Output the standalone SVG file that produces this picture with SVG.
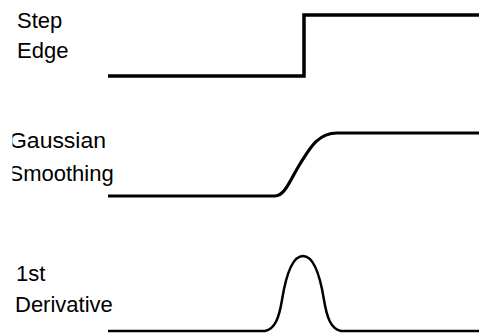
<svg xmlns="http://www.w3.org/2000/svg" width="479" height="333" viewBox="0 0 479 333">
  <style>
    .lbl { font-family: "Liberation Sans", Arial, sans-serif; font-size: 22px; fill: #000; }
    .sig { fill: none; stroke: #000; stroke-linejoin: miter; stroke-linecap: butt; }
  </style>
  <defs>
    <clipPath id="leftClip">
      <rect x="12.5" y="0" width="467" height="333"/>
    </clipPath>
  </defs>
  <rect width="479" height="333" fill="#fff"/>
  <g id="step-edge">
    <text class="lbl" x="17" y="27.5">Step</text>
    <text class="lbl" x="17" y="58">Edge</text>
    <path class="sig" stroke-width="3.5" d="M108,76 H304 V15 H479"/>
  </g>
  <g id="gaussian-smoothing" >
    <g clip-path="url(#leftClip)">
      <text class="lbl" x="9" y="148" textLength="97" lengthAdjust="spacingAndGlyphs">Gaussian</text>
      <text class="lbl" x="8.5" y="181">Smoothing</text>
    </g>
    <path class="sig" stroke-width="3.2" stroke-linejoin="round" d="M108,196 H275 C285,196 290,180 300,164 C310,148 318,133 337,133 H479"/>
  </g>
  <g id="first-derivative">
    <text class="lbl" x="16" y="280.5">1st</text>
    <text class="lbl" x="15" y="312">Derivative</text>
    <path class="sig" stroke-width="2.5" stroke-linejoin="round" d="M108,331 H265 C275,329 279,318 282,300 C286,275 292,256 303,256 C314,256 320,275 324,300 C327,318 331,329 341,331 H479"/>
  </g>
</svg>
